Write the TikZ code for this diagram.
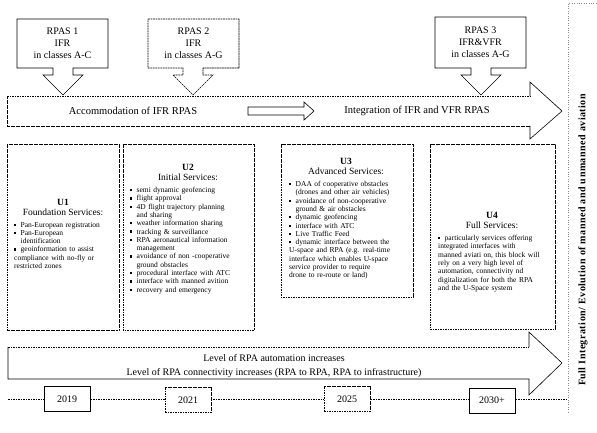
\documentclass[tikz,border=0pt]{standalone}
\usepackage{fontspec}
\setmainfont{Liberation Serif}
\newfontfamily\sidefont[LetterSpace=5]{Liberation Serif}
\newcommand{\bitem}{\par\hangindent=6.5pt\hangafter=1\noindent\makebox[6.5pt][l]{\raisebox{1.3pt}{\rule{2.2pt}{2.2pt}}}}
\tikzset{
  dline/.style={draw=black, line width=0.6pt, dash pattern=on 1.8pt off 0.7pt},
  sline/.style={draw=black, line width=0.6pt},
  rpastext/.style={align=center, font=\fontsize{10}{12}\selectfont, inner sep=0pt},
  bartext/.style={font=\fontsize{10.5}{12.5}\selectfont, inner sep=0pt},
  uhead/.style={font=\fontsize{9.5}{11}\selectfont\bfseries, inner sep=0pt},
  usub/.style={font=\fontsize{9.5}{11}\selectfont, inner sep=0pt},
  ulist/.style={anchor=north west, text width=112pt, align=left, inner sep=0pt, font=\fontsize{7.5}{8.3}\selectfont},
  yearbox/.style={sline, fill=white, minimum width=46pt, minimum height=25pt, inner sep=0pt, font=\fontsize{10}{12}\selectfont},
}
\begin{document}
\begin{tikzpicture}[x=1pt,y=-1pt]
\useasboundingbox (0,0) rectangle (597,433);
\fill[white] (0,0) rectangle (597,433);

% right panel
\draw[black!45, line width=0.4pt, dotted] (568,412) -- (568,3) -- (597,3);
\node[rotate=90, inner sep=0pt, font=\fontsize{10}{12}\selectfont\sidefont\bfseries] (side) at (583,240) {Full Integration/ Evolution of manned and unmanned aviation};

% top bar arrow
\draw[dline] (7,96) -- (530,96);
\draw[dline] (530,126) -- (7,126) -- (7,96);
\draw[sline] (530,96) -- (530,82) -- (562,111) -- (530,139) -- (530,126);
\draw[sline] (248,107) -- (304,107) -- (304,102) -- (314,111) -- (304,120) -- (304,115) -- (248,115) -- cycle;
\node[bartext] (acc) at (133,111) {Accommodation of IFR RPAS};
\node[bartext] (int) at (417,111) {Integration of IFR and VFR RPAS};

% RPAS callouts
\draw[sline] (17,19) -- (108,19) -- (108,68) -- (73,68) -- (73,75) -- (83,75) -- (63,95) -- (43,75) -- (53,75) -- (53,68) -- (17,68) -- cycle;
\node[rpastext] (r1) at (62.5,43) {RPAS 1\\IFR\\in classes A-C};
\draw[dline] (148,19) -- (239,19) -- (239,68) -- (203,68) -- (203,75) -- (213,75) -- (193,95) -- (173,75) -- (183,75) -- (183,68) -- (148,68) -- cycle;
\node[rpastext] (r2) at (193.5,43) {RPAS 2\\IFR\\in classes A-G};
\draw[sline] (435,17) -- (526,17) -- (526,68) -- (491,68) -- (491,75) -- (501,75) -- (481,95) -- (461,75) -- (471,75) -- (471,68) -- (435,68) -- cycle;
\node[rpastext] (r3) at (480.5,42) {RPAS 3\\IFR\&VFR\\in classes A-G};

% U boxes
\draw[dline] (7,144) rectangle (119,330);
\draw[dline] (123,144) rectangle (254,330);
\draw[dline] (281,144) rectangle (413,297);
\draw[dline] (430,144) rectangle (555,329);

\node[uhead] (u1h) at (63,202) {U1};
\node[usub] (u1s) at (63,212.5) {Foundation Services:};
\node[ulist] (u1l) at (14,218.5) {\bitem Pan-European registration
\bitem Pan-European\newline identification
\bitem geoinformation to assist\newline compliance with no-fly or\newline restricted zones};

\node[uhead] (u2h) at (188,167) {U2};
\node[usub] (u2s) at (188,177.5) {Initial Services:};
\node[ulist] (u2l) at (130,184) {\bitem semi dynamic geofencing
\bitem flight approval
\bitem 4D flight trajectory planning\newline and sharing
\bitem weather information sharing
\bitem tracking \& surveillance
\bitem RPA aeronautical information\newline management
\bitem avoidance of non -cooperative\newline ground obstacles
\bitem procedural interface with ATC
\bitem interface with manned avition
\bitem recovery and emergency};

\node[uhead] (u3h) at (346,161) {U3};
\node[usub] (u3s) at (346,171.5) {Advanced Services:};
\node[ulist] (u3l) at (289,178) {\bitem DAA of cooperative obstacles\newline (drones and other air vehicles)
\bitem avoidance of non-cooperative\newline ground \& air obstacles
\bitem dynamic geofencing
\bitem interface with ATC
\bitem Live Traffic Feed
\bitem dynamic interface between the\newline U-space and RPA (e.g. real-time\newline interface which enables U-space\newline service provider to require\newline drone to re-route or land)};

\node[uhead] (u4h) at (492,215) {U4};
\node[usub] (u4s) at (492,225.5) {Full Services:};
\node[ulist] (u4l) at (438,232) {\bitem particularly services offering\newline integrated interfaces with\newline manned aviati on, this block will\newline rely on a very high level of\newline automation, connectivity nd\newline digitalization for both the RPA\newline and the U-Space system};

% bottom arrow
\draw[dline] (8,347) -- (529,347);
\draw[sline] (529,347) -- (529,332) -- (562,363) -- (529,395) -- (529,379) -- (8,379) -- (8,347);
\node[bartext, font=\fontsize{10}{12}\selectfont] (lv1) at (274,358) {Level of RPA automation increases};
\node[bartext, font=\fontsize{10}{12}\selectfont] (lv2) at (274,373) {Level of RPA connectivity increases (RPA to RPA, RPA to infrastructure)};

% timeline
\coordinate (tl0) at (8,399);
\coordinate (tl1) at (568,399);
\draw[black, line width=0.5pt, dash pattern=on 1.5pt off 1pt] (tl0) -- (tl1);
\node[yearbox] (y1) at (67,399) {2019};
\node[yearbox, dline] (y2) at (188,400) {2021};
\node[yearbox, dline] (y3) at (347,399) {2025};
\node[yearbox] (y4) at (492,400.5) {2030+};
\end{tikzpicture}
\end{document}
